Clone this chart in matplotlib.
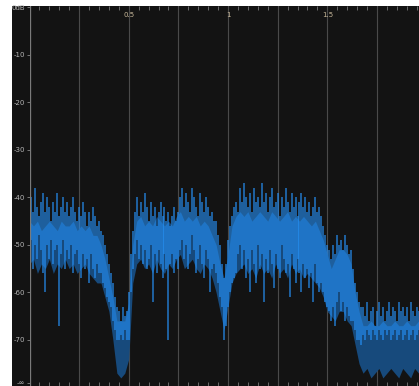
import numpy as np
import matplotlib
matplotlib.use("Agg")
import matplotlib.pyplot as plt
from matplotlib.patches import Rectangle
from matplotlib.ticker import MultipleLocator

# fine bins, one every 0.01 (normalised frequency)
fine_f = np.arange(197) * 0.01
# coarse bins, one every 0.02
coarse_f = np.arange(99) * 0.02

# per-bin maximum (dB)
high = [-45, -40, -43, -38, -42, -44, -41, -39, -43, -40,
        -42, -45, -41, -43, -39, -44, -42, -40, -43, -41,
        -44, -42, -40, -43, -45, -42, -44, -41, -43, -46,
        -43, -45, -42, -44, -46, -45, -47, -48, -50, -52,
        -54, -56, -58, -61, -63, -64, -66, -63, -65, -64,
        -60, -52, -47, -43, -40, -44, -41, -43, -39, -42,
        -45, -41, -44, -42, -46, -43, -41, -44, -42, -45,
        -43, -46, -44, -42, -45, -43, -40, -38, -42, -39,
        -41, -43, -38, -40, -42, -44, -39, -41, -43, -40,
        -42, -44, -43, -45, -45, -48, -50, -54, -57, -54,
        -49, -46, -44, -42, -41, -43, -38, -41, -37, -40,
        -42, -39, -43, -38, -41, -40, -42, -37, -41, -39,
        -43, -40, -38, -42, -41, -39, -44, -40, -42, -38,
        -41, -43, -39, -42, -40, -44, -41, -39, -42, -40,
        -43, -41, -44, -42, -40, -43, -42, -44, -46, -48,
        -50, -51, -53, -50, -52, -48, -50, -49, -51, -48,
        -50, -52, -51, -55, -58, -60, -62, -63, -63, -65,
        -62, -66, -64, -63, -67, -64, -62, -65, -63, -66,
        -64, -62, -65, -63, -64, -66, -62, -64, -63, -65,
        -63, -66, -62, -64, -65, -63, -64]

# per-bin minimum of the bright trace (dB)
low = [-52, -49, -55, -50, -53, -48, -51, -56, -60, -50,
       -53, -49, -54, -51, -50, -67, -52, -49, -55, -51,
       -53, -50, -56, -52, -51, -54, -57, -52, -55, -53,
       -58, -52, -55, -57, -54, -56, -56, -58, -59, -61,
       -62, -63, -66, -68, -70, -70, -69, -70, -68, -70,
       -70, -60, -55, -52, -49, -53, -50, -54, -51, -55,
       -53, -50, -62, -52, -56, -51, -54, -57, -52, -55,
       -70, -54, -52, -56, -53, -55, -51, -49, -53, -50,
       -55, -52, -48, -51, -56, -53, -50, -54, -57, -51,
       -53, -60, -55, -54, -56, -58, -61, -63, -70, -67,
       -63, -60, -58, -57, -56, -52, -50, -55, -51, -57,
       -53, -60, -51, -54, -58, -50, -55, -52, -62, -53,
       -56, -51, -54, -59, -52, -55, -57, -50, -53, -56,
       -54, -61, -52, -55, -58, -53, -56, -60, -54, -57,
       -55, -59, -56, -62, -54, -58, -60, -58, -60, -62,
       -63, -64, -66, -63, -67, -62, -60, -64, -62, -66,
       -63, -65, -66, -66, -68, -70, -70, -71, -69, -70,
       -68, -69, -70, -68, -69, -70, -68, -69, -70, -68,
       -69, -68, -70, -69, -68, -70, -69, -68, -70, -69,
       -68, -70, -69, -68, -70, -69, -68]

# dark body of the spectrum, upper and lower edge (dB)
body_hi = [-45, -46, -45, -47, -46, -45, -46, -47, -45, -46,
           -46, -45, -47, -46, -47, -46, -48, -48, -50, -53,
           -57, -61, -66, -66, -66, -62, -50, -45, -44, -46,
           -45, -46, -44, -45, -46, -45, -46, -44, -43, -45,
           -44, -45, -44, -46, -45, -46, -48, -50, -54, -57,
           -52, -46, -44, -43, -44, -43, -45, -44, -43, -44,
           -45, -43, -44, -45, -44, -43, -45, -44, -45, -44,
           -45, -46, -45, -47, -49, -52, -55, -53, -51, -51,
           -52, -54, -60, -64, -67, -67, -66, -67, -67, -66,
           -67, -67, -66, -67, -67, -66, -67, -67, -66]
body_lo = [-54, -53, -56, -54, -55, -53, -56, -54, -55, -53,
           -55, -54, -56, -55, -54, -56, -57, -58, -58, -61,
           -64, -70, -77, -78, -77, -74, -58, -54, -53, -55,
           -54, -56, -53, -55, -56, -54, -55, -53, -52, -55,
           -54, -53, -55, -56, -54, -55, -57, -60, -64, -68,
           -63, -58, -56, -55, -54, -56, -55, -57, -54, -56,
           -55, -57, -54, -56, -55, -57, -54, -56, -55, -57,
           -56, -57, -58, -59, -61, -64, -65, -66, -64, -64,
           -66, -67, -71, -75, -77, -76, -78, -77, -76, -78,
           -77, -76, -77, -78, -76, -77, -78, -76, -77]

ytick_vals = [0, -10, -20, -30, -40, -50, -60, -70, -79]
ytick_text = ["0dB", "-10", "-20", "-30", "-40", "-50", "-60", "-70", "-\u221e"]
top_vals = [0.5, 1, 1.5]
top_text = ["0.5", "1", "1.5"]

BG = "#131313"
W, H = 419, 386
fig = plt.figure(figsize=(W / 100, H / 100), dpi=100, facecolor="white")
fig.patches.append(Rectangle((12 / W, 0), 1, (H - 6) / H, transform=fig.transFigure,
                             facecolor=BG, edgecolor="none", zorder=-5))
ax = fig.add_axes([29.5 / W, 0, (W - 29.5) / W, (H - 6) / H])
ax.set_zorder(2)
ax.set_facecolor(BG)
ax.set_xlim(0, 1.962)
ax.set_ylim(-79.7, 0.3)

# dark body first, then the bright per-bin bars on top
ax.fill_between(coarse_f, body_lo, body_hi, color="#174a7c", lw=0, zorder=2)
ax.vlines(fine_f, low, high, color="#2590f5", lw=1.1, alpha=0.8, zorder=3)

for s in ax.spines.values():
    s.set_visible(False)
ax.axvline(0, color="#7a7a7a", lw=0.9, zorder=5)

ax.xaxis.set_major_locator(MultipleLocator(0.25))
ax.xaxis.set_minor_locator(MultipleLocator(0.05))
ax.grid(True, axis="x", which="major", color="#4a4a4a", lw=0.8, zorder=1)
ax.tick_params(axis="x", which="major", length=0, labelbottom=False)
ax.tick_params(axis="x", which="minor", top=True, bottom=True, direction="in",
               length=3, width=0.6, color="#777777")

ax.set_yticks(ytick_vals)
ax.set_yticklabels(ytick_text)
ax.tick_params(axis="y", direction="out", length=2, width=0.6, color="#888888",
               labelsize=5, labelcolor="#b5b5b5", pad=1)

for v, t in zip(top_vals, top_text):
    ax.text(v, 0.985, t, transform=ax.get_xaxis_transform(), ha="center", va="top",
            fontsize=5, color="#c8b89a")

fig.savefig("out.png", dpi=100, facecolor="white")
